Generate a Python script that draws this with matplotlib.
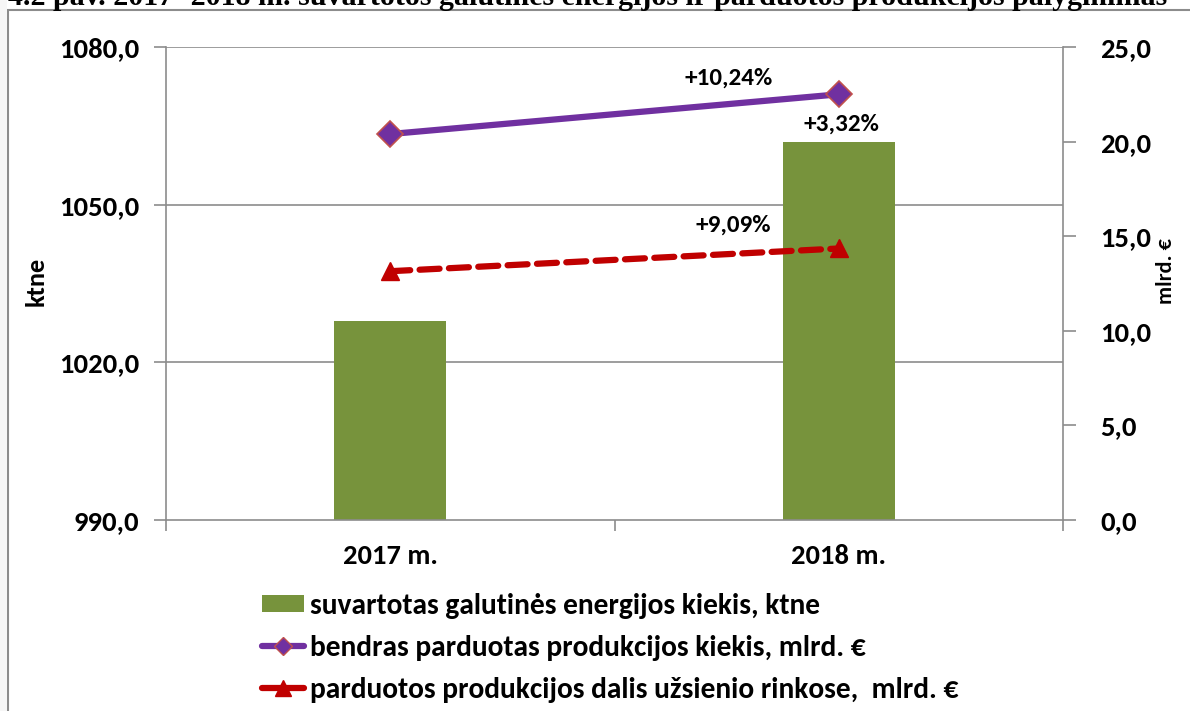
import matplotlib
matplotlib.use("Agg")
import matplotlib.pyplot as plt
from matplotlib import font_manager as fm
from matplotlib.patches import Rectangle, Patch
from matplotlib.lines import Line2D
import numpy as np

# ---- data ----
categories = ["2017 m.", "2018 m."]
energy_ktne = [1027.9, 1062.0]
total_sales = [20.4, 22.5]
export_sales = [13.15, 14.35]
energy_change = "+3,32%"
total_change = "+10,24%"
export_change = "+9,09%"
left_ticks = [990.0, 1020.0, 1050.0, 1080.0]
right_ticks = [0.0, 5.0, 10.0, 15.0, 20.0, 25.0]
left_label = "ktne"
right_label = "mlrd. €"
legend_labels = [
    "suvartotas galutinės energijos kiekis, ktne",
    "bendras parduotas produkcijos kiekis, mlrd. €",
    "parduotos produkcijos dalis užsienio rinkose,  mlrd. €",
]
title = "4.2 pav. 2017- 2018 m. suvartotos galutinės energijos ir parduotos produkcijos palyginimas"

# ---- fonts ----
avail = {}
for f in fm.fontManager.ttflist:
    avail.setdefault(f.name, set()).add(f.weight)

def pick(cands, need_bold=True):
    for c in cands:
        if c in avail and (not need_bold or any(int(w) >= 600 for w in avail[c]
                                                 if str(w).isdigit())):
            return c
    return "DejaVu Sans"

FONT = pick(["Carlito", "Lato", "Open Sans", "Noto Sans"])
SERIF = pick(["Tinos", "Liberation Serif", "DejaVu Serif"])

GREEN = "#77933c"
PURPLE = "#7030a0"
RED = "#c00000"
DEDGE = "#c0504d"
GRID = "#8c8c8c"

W, H = 1190, 711
fig = plt.figure(figsize=(W / 100, H / 100), dpi=100)
renderer = fig.canvas.get_renderer()

def fit(t, target):
    fig.canvas.draw()
    cur = t.get_window_extent(renderer).width
    t.set_fontsize(t.get_fontsize() * target / cur)
    return t.get_fontsize()

# frame around chart
fig.patches.append(Rectangle((8 / W, -0.1), 1.2, 1.1 - 10 / H, transform=fig.transFigure,
                             fill=False, edgecolor="#8c8c8c", linewidth=1.5))
fig.patches.append(Rectangle((0, 0), 7 / W, 1, transform=fig.transFigure,
                             facecolor="#f6f6f6", edgecolor="none"))

# cut-off title
tt = fig.text(8 / W, 1 - 5 / H, title, family=SERIF, fontweight="bold",
              fontsize=19, ha="left", va="baseline", color="black")
fit(tt, 1157)

ax = fig.add_axes([166 / W, 1 - 520 / H, (1063 - 166) / W, (520 - 47) / H])
x = np.arange(len(categories))

ax.bar(x, energy_ktne, width=0.25, color=GREEN, zorder=2)
ax.set_ylim(990, 1080)
ax.set_xlim(-0.5, 1.5)
ax.set_yticks(left_ticks)
ax.set_yticklabels([f"{v:.1f}".replace(".", ",") for v in left_ticks],
                   family=FONT, fontweight="bold", fontsize=18)
for v in left_ticks[1:]:
    ax.axhline(v, color=GRID, linewidth=1.2, zorder=1)
ax.set_xticks(x)
ax.set_xticklabels(categories, family=FONT, fontweight="bold", fontsize=18)
ax.set_xticks([-0.5, 0.5, 1.5], minor=True)
ax.tick_params(axis="x", which="major", length=0, pad=17)
ax.tick_params(axis="x", which="minor", length=8, color=GRID, width=1.2)
ax.tick_params(axis="y", length=9, color=GRID, width=1.2, pad=10)
for s in ["top", "right"]:
    ax.spines[s].set_visible(False)
for s in ["left", "bottom"]:
    ax.spines[s].set_color(GRID)
    ax.spines[s].set_linewidth(1.2)

ax2 = ax.twinx()
ax2.set_ylim(0, 25)
ax2.set_yticks(right_ticks)
ax2.set_yticklabels([f"{v:.1f}".replace(".", ",") for v in right_ticks],
                    family=FONT, fontweight="bold", fontsize=18)
ax2.tick_params(axis="y", length=9, color=GRID, width=1.2, pad=18)
for s in ["top", "left", "bottom"]:
    ax2.spines[s].set_visible(False)
ax2.spines["right"].set_color(GRID)
ax2.spines["right"].set_linewidth(1.2)

# axis titles
fig.text(36 / W, 1 - 281 / H, left_label, rotation=90, ha="center", va="center",
         family=FONT, fontweight="bold", fontsize=19)
fig.text(1166 / W, 1 - 271 / H, right_label, rotation=90, ha="center", va="center",
         family=FONT, fontweight="bold", fontsize=16)

# fit tick label sizes to the reference widths
lt = ax.get_yticklabels()
s_tick = fit(lt[-1], 80)
for t in lt + ax2.get_yticklabels():
    t.set_fontsize(s_tick)
xt = ax.get_xticklabels()
s_cat = fit(xt[0], 95)
for t in xt:
    t.set_fontsize(s_cat)

ax2.plot(x, total_sales, color=PURPLE, linewidth=4.5, marker="D", markersize=13,
         markerfacecolor=PURPLE, markeredgecolor=DEDGE, markeredgewidth=1.2,
         zorder=3, solid_capstyle="round")
ax2.plot(x, export_sales, color=RED, linewidth=4.5, linestyle=(0, (3.2, 1.5)),
         marker="^", markersize=13, markerfacecolor=RED, markeredgecolor=RED,
         zorder=3, dash_capstyle="round")

# annotations
a1 = ax.annotate(energy_change, (x[1], energy_ktne[1]), xytext=(2, 5),
                 textcoords="offset points", ha="center", va="bottom",
                 family=FONT, fontweight="bold", fontsize=15)
a2 = ax2.annotate(total_change, (x[1], total_sales[1]), xytext=(-79, 4),
                  textcoords="offset points", ha="center", va="bottom",
                  family=FONT, fontweight="bold", fontsize=15)
a3 = ax2.annotate(export_change, (x[1], export_sales[1]), xytext=(-76, 9),
                  textcoords="offset points", ha="center", va="bottom",
                  family=FONT, fontweight="bold", fontsize=15)
s_ann = fit(a2, 88)
for a in (a1, a3):
    a.set_fontsize(s_ann)

handles = [
    Patch(facecolor=GREEN, edgecolor="none"),
    Line2D([], [], color=PURPLE, linewidth=4.5, marker="D", markersize=9,
           markerfacecolor=PURPLE, markeredgecolor=DEDGE, solid_capstyle="round"),
    Line2D([], [], color=RED, linewidth=4.5, marker="^", markersize=11,
           markerfacecolor=RED, markeredgecolor=RED, solid_capstyle="round"),
]

def make_legend(size, spacing):
    fs_px = size * 100 / 72
    return fig.legend(handles, legend_labels, loc="center left",
                      bbox_to_anchor=(262 / W, 1 - 648 / H), frameon=False,
                      prop={"family": FONT, "weight": "bold", "size": size},
                      handlelength=42 / fs_px, handleheight=0.55,
                      handletextpad=6 / fs_px, labelspacing=spacing,
                      borderaxespad=0, borderpad=0)

leg = make_legend(18, 0.6)
fig.canvas.draw()
w0 = leg.get_texts()[0].get_window_extent(renderer).width
size = 18 * 512 / w0
leg.remove()
leg = make_legend(size, 0.6)
fig.canvas.draw()
ys = [t.get_window_extent(renderer).y0 for t in leg.get_texts()]
gap = (ys[0] - ys[2]) / 2
spacing = 0.6 + (42 - gap) / (size * 100 / 72)
leg.remove()
leg = make_legend(size, spacing)

fig.savefig("out.png", dpi=100)
